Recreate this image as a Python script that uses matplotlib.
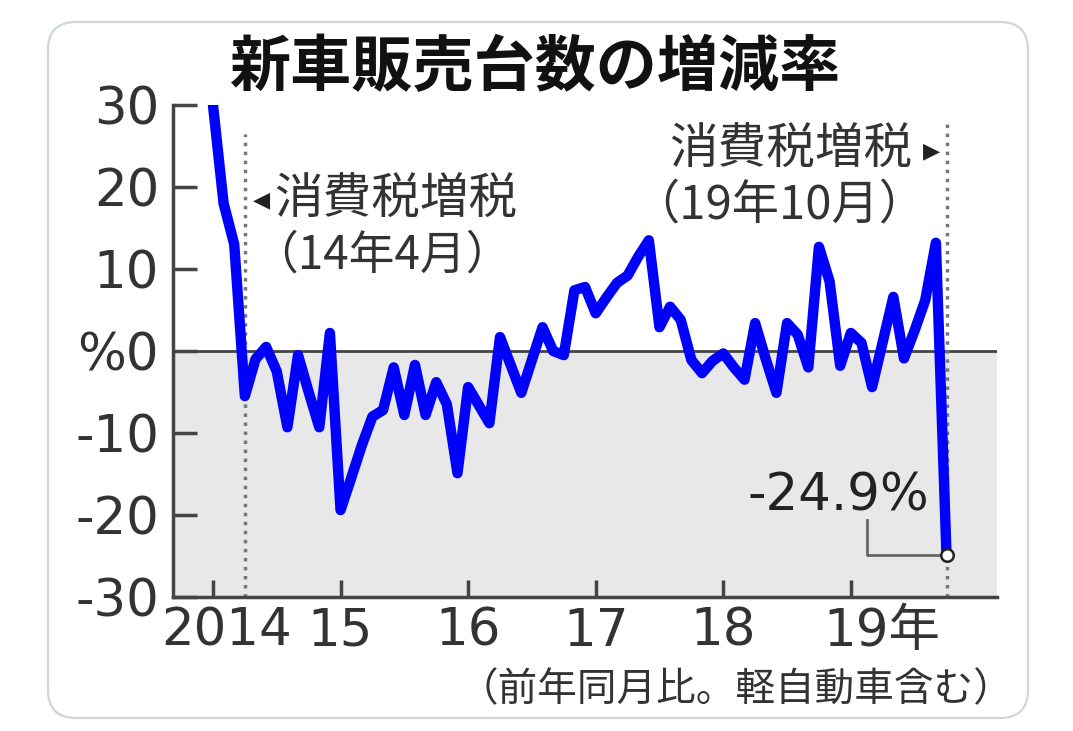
import matplotlib
matplotlib.use("Agg")
import matplotlib.pyplot as plt
from matplotlib.patches import FancyBboxPatch
from matplotlib.transforms import IdentityTransform

plt.rcParams["font.family"] = ["Noto Sans CJK JP", "DejaVu Sans"]

# year-on-year change of new car sales (%), monthly, Jan 2014 - Oct 2019
change_2014 = [30.0, 18.0, 13.0, -5.5, -1.0, 0.5, -2.5, -9.3, -0.5, -5.0, -9.3, 2.2]
change_2015 = [-19.4, -15.5, -11.5, -8.0, -7.2, -2.0, -7.8, -1.7, -7.8, -3.8, -6.5, -14.9]
change_2016 = [-4.4, -6.6, -8.8, 1.7, -1.7, -5.1, -1.1, 2.9, 0.0, -0.5, 7.4, 7.8]
change_2017 = [4.6, 6.5, 8.3, 9.2, 11.5, 13.5, 2.9, 5.4, 3.8, -1.1, -2.7, -1.2]
change_2018 = [-0.3, -2.0, -3.5, 3.4, -1.0, -5.1, 3.4, 2.0, -2.0, 12.7, 8.5, -1.8]
change_2019 = [2.2, 1.0, -4.4, 1.1, 6.6, -0.9, 2.5, 6.2, 13.2, -24.9]

values = change_2014 + change_2015 + change_2016 + change_2017 + change_2018 + change_2019
months = list(range(len(values)))

year_ticks = [0, 12, 24, 36, 48, 60]
year_labels = ["2014", "15", "16", "17", "18", "19年"]
year_label_dx = [9.5, 0, 0, 0, 0, 22]  # offsets in points
y_ticks = [30, 20, 10, 0, -10, -20, -30]
y_labels = ["30", "20", "10", "%0", "-10", "-20", "-30"]

tax_hike_1 = 3    # Apr 2014
tax_hike_2 = 69   # Oct 2019

TEXT = "#333333"
SPINE = "#444444"
NUM_FONT = ["DejaVu Sans", "Noto Sans CJK JP"]

fig = plt.figure(figsize=(10.73, 7.31), dpi=100)
fig.patch.set_facecolor("white")

card = FancyBboxPatch((48, 13), 980, 696, boxstyle="round,pad=0,rounding_size=28",
                      transform=IdentityTransform(), fill=False, ec="#cfd6d6", lw=1.6)
fig.add_artist(card)

ax = fig.add_axes([173 / 1073, 134 / 731, 824 / 1073, 492 / 731])
ax.set_xlim(-3.76, 73.75)
ax.set_ylim(-30, 30)

ax.axhspan(-30, 0, color="#e8e8e8", zorder=0, lw=0)
ax.axhline(0, color=SPINE, lw=2, zorder=1)

ax.vlines(tax_hike_1, -30, 26.5, colors="#777777", lw=2.5, linestyles=(0, (1, 1.6)), zorder=1)
ax.vlines(tax_hike_2, -30, 28.2, colors="#777777", lw=2.5, linestyles=(0, (1, 1.6)), zorder=1)

ax.plot(months, values, color="#0000ff", lw=7.5, solid_joinstyle="round",
        solid_capstyle="round", zorder=3)
ax.plot(months[-1], values[-1], marker="o", ms=9, mfc="white", mec="#222222",
        mew=1.8, zorder=4)

# leader line for the last value
ax.plot([61.5, 61.5, 68.6], [-20.6, values[-1], values[-1]], color="#666666", lw=2, zorder=2)
ax.text(58.8, -17.8, "-24.9%", fontsize=37, color="#222222", family=NUM_FONT,
        ha="center", va="center")

for side in ["top", "right"]:
    ax.spines[side].set_visible(False)
for side in ["left", "bottom"]:
    ax.spines[side].set_color(SPINE)
    ax.spines[side].set_linewidth(2.5)

ax.set_yticks(y_ticks, labels=y_labels, fontsize=37, color=TEXT, family=NUM_FONT)
ax.tick_params(axis="y", direction="in", length=17, width=2.5, color=SPINE, pad=10)
ax.set_xticks(year_ticks, labels=[""] * len(year_ticks))
ax.tick_params(axis="x", direction="in", length=12, width=2.5, color=SPINE)

for tick, label, dx in zip(year_ticks, year_labels, year_label_dx):
    ax.annotate(label, xy=(tick, 0), xycoords=("data", "axes fraction"),
                xytext=(dx, -25), textcoords="offset points", ha="center", va="center",
                fontsize=37, color=TEXT, family=NUM_FONT)

# tax hike annotations
ax.text(4.6, 18.4, "◀", fontsize=16, color="#222222", ha="center", va="center",
        family=["DejaVu Sans"])
ax.text(5.8, 18.4, "消費税増税", fontsize=35, color=TEXT, ha="left", va="center")
ax.text(3.7, 11.7, "（14年4月）", fontsize=33, color=TEXT, ha="left", va="center")
ax.text(65.8, 24.5, "消費税増税", fontsize=35, color=TEXT, ha="right", va="center")
ax.text(67.6, 24.3, "▶", fontsize=16, color="#222222", ha="center", va="center",
        family=["DejaVu Sans"])
ax.text(53.3, 17.8, "（19年10月）", fontsize=34, color=TEXT, ha="center", va="center")

fig.text(535 / 1073, 1 - 68 / 731, "新車販売台数の増減率", fontsize=44, fontweight="bold",
         color="#111111", ha="center", va="center")
fig.text(1013 / 1073, 1 - 690 / 731, "（前年同月比。軽自動車含む）", fontsize=28.5,
         color=TEXT, ha="right", va="center")

fig.savefig("out.png", dpi=100)
plt.close(fig)
